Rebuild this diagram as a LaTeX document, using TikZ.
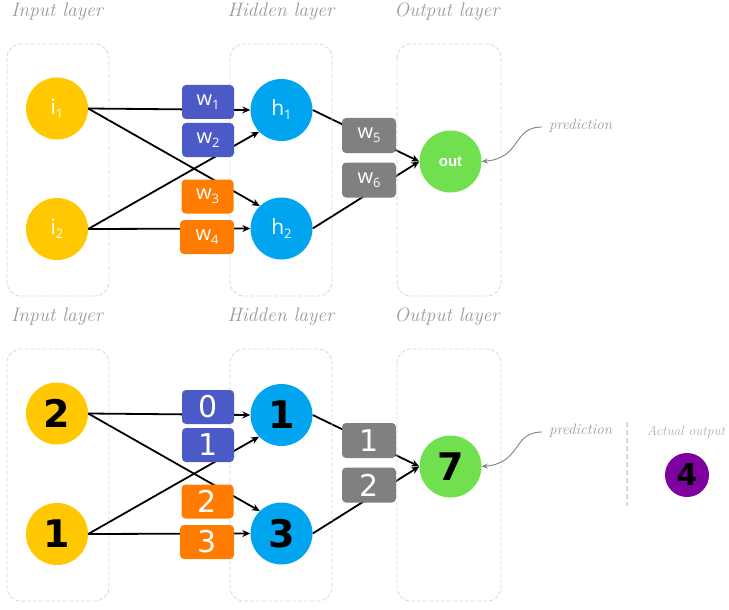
\documentclass[tikz,border=0pt]{standalone}
\usepackage{fontspec}
\newfontfamily\osans{Open Sans}
\newfontfamily\dsans{DejaVu Sans}
\newfontfamily\lsans{Liberation Sans}
\usetikzlibrary{arrows.meta}
\pgfdeclarelayer{bg}
\pgfsetlayers{bg,main}
\definecolor{cyellow}{HTML}{FFC800}
\definecolor{cblue}{HTML}{00A4EF}
\definecolor{cbox}{HTML}{4B5AC6}
\definecolor{corange}{HTML}{FF7C00}
\definecolor{cgraybox}{HTML}{808080}
\definecolor{cgreen}{HTML}{70E04E}
\definecolor{cpurple}{HTML}{7E00A0}
\definecolor{clab}{HTML}{9A9A9A}
\definecolor{clab2}{HTML}{B0B0B0}
\definecolor{cframe}{HTML}{D6D6D6}
\newcommand{\subs}[1]{\raisebox{-4pt}{\fontsize{13}{13}\selectfont #1}}
\tikzset{
  layerbox/.style={draw=cframe, dash pattern=on 4pt off 2pt, rounded corners=14pt, line width=0.8pt},
  neuron/.style={circle, minimum size=62pt, inner sep=0pt, text=white, font=\osans\fontsize{21}{21}\selectfont},
  bigneuron/.style={circle, minimum size=62pt, inner sep=0pt, text=black, font=\dsans\bfseries\fontsize{38}{38}\selectfont},
  wbox/.style={rounded corners=4pt, minimum width=52pt, minimum height=34pt, inner sep=0pt, text=white, font=\osans\fontsize{20}{20}\selectfont},
  nbox/.style={wbox, font=\dsans\fontsize{30}{30}\selectfont},
  conn/.style={line width=1.8pt, black},
  arr/.style={conn, -{Stealth[length=8pt,width=7pt]}},
  title/.style={text=clab, font=\itshape\fontsize{19.5}{19.5}\selectfont},
  predlab/.style={text=clab, font=\itshape\fontsize{15}{15}\selectfont, inner sep=0pt},
  predarr/.style={draw=gray, line width=0.9pt, -{Stealth[length=6pt,width=5pt]}},
}
\begin{document}
\begin{tikzpicture}[x=1pt,y=-1pt]
\useasboundingbox (0,0) rectangle (729,610);
% ---------- top network ----------
\node[title] (t1) at (57,12) {Input layer};
\node[title] (t2) at (281,12) {Hidden layer};
\node[title] (t3) at (447,12) {Output layer};
\draw[layerbox] (7,44) rectangle (109,296);
\draw[layerbox] (230,44) rectangle (332,296);
\draw[layerbox] (397,44) rectangle (501,296);
\node[neuron, fill=cyellow] (i1) at (57,108.5) {i\subs{1}};
\node[neuron, fill=cyellow] (i2) at (57,229) {i\subs{2}};
\node[neuron, fill=cblue] (h1) at (281.5,110) {h\subs{1}};
\node[neuron, fill=cblue] (h2) at (281.5,228.5) {h\subs{2}};
\node[circle, minimum size=62pt, inner sep=0pt, fill=cgreen, text=white, font=\lsans\bfseries\fontsize{15}{15}\selectfont] (out) at (450.5,161.5) {out};
\node[wbox, fill=cbox] (w1) at (208,102) {w\subs{1}};
\node[wbox, fill=cbox] (w2) at (208,140) {w\subs{2}};
\node[wbox, fill=corange] (w3) at (207.5,196.5) {w\subs{3}};
\node[wbox, fill=corange, minimum width=54pt] (w4) at (207,237) {w\subs{4}};
\node[wbox, fill=cgraybox, minimum width=54pt, minimum height=35pt] (w5) at (369,135.5) {w\subs{5}};
\node[wbox, fill=cgraybox, minimum width=54pt, minimum height=35pt] (w6) at (369,180) {w\subs{6}};
\begin{pgfonlayer}{bg}
\draw[arr] (i1.east) -- (h1.west);
\draw[arr] (i1.east) -- (h2.134);
\draw[arr] (i2.east) -- (h1.224);
\draw[arr] (i2.east) -- (h2.west);
\draw[arr] (h1.east) -- (out.west);
\draw[arr] (h2.east) -- (out.west);
\end{pgfonlayer}
\node[predlab, anchor=west] (p1) at (549,126) {prediction};
\coordinate (p1s) at (542,127);
\draw[predarr] (p1s) .. controls (512,127) and (522,158) .. (out.east);
% ---------- bottom network ----------
\node[title] (b1) at (57,317) {Input layer};
\node[title] (b2) at (281,317) {Hidden layer};
\node[title] (b3) at (447,317) {Output layer};
\draw[layerbox] (7,349) rectangle (109,601);
\draw[layerbox] (230,349) rectangle (332,601);
\draw[layerbox] (397,349) rectangle (501,601);
\node[bigneuron, fill=cyellow] (bi1) at (57,413.5) {2};
\node[bigneuron, fill=cyellow] (bi2) at (57,534) {1};
\node[bigneuron, fill=cblue] (bh1) at (281.5,415) {1};
\node[bigneuron, fill=cblue] (bh2) at (281.5,533.5) {3};
\node[bigneuron, fill=cgreen] (bout) at (450.5,466.5) {7};
\node[nbox, fill=cbox] (bw1) at (208,407) {0};
\node[nbox, fill=cbox] (bw2) at (208,445) {1};
\node[nbox, fill=corange] (bw3) at (207.5,501.5) {2};
\node[nbox, fill=corange, minimum width=54pt] (bw4) at (207,542) {3};
\node[nbox, fill=cgraybox, minimum width=54pt, minimum height=35pt] (bw5) at (369,440.5) {1};
\node[nbox, fill=cgraybox, minimum width=54pt, minimum height=35pt] (bw6) at (369,485) {2};
\begin{pgfonlayer}{bg}
\draw[arr] (bi1.east) -- (bh1.west);
\draw[arr] (bi1.east) -- (bh2.134);
\draw[arr] (bi2.east) -- (bh1.224);
\draw[arr] (bi2.east) -- (bh2.west);
\draw[arr] (bh1.east) -- (bout.west);
\draw[arr] (bh2.east) -- (bout.west);
\end{pgfonlayer}
\node[predlab, anchor=west] (p2) at (549,431) {prediction};
\coordinate (p2s) at (542,432);
\draw[predarr] (p2s) .. controls (512,432) and (522,463) .. (bout.east);
\coordinate (sepT) at (627,422);
\coordinate (sepB) at (627,506);
\draw[draw=cframe, line width=1.3pt, dash pattern=on 5pt off 3pt] (sepT) -- (sepB);
\node[text=clab2, font=\itshape\fontsize{13.5}{13.5}\selectfont, inner sep=0pt] (act) at (686,432) {Actual output};
\node[circle, minimum size=44pt, inner sep=0pt, fill=cpurple, text=black, font=\dsans\bfseries\fontsize{30}{30}\selectfont] (actual) at (687,475) {4};
\end{tikzpicture}
\end{document}
